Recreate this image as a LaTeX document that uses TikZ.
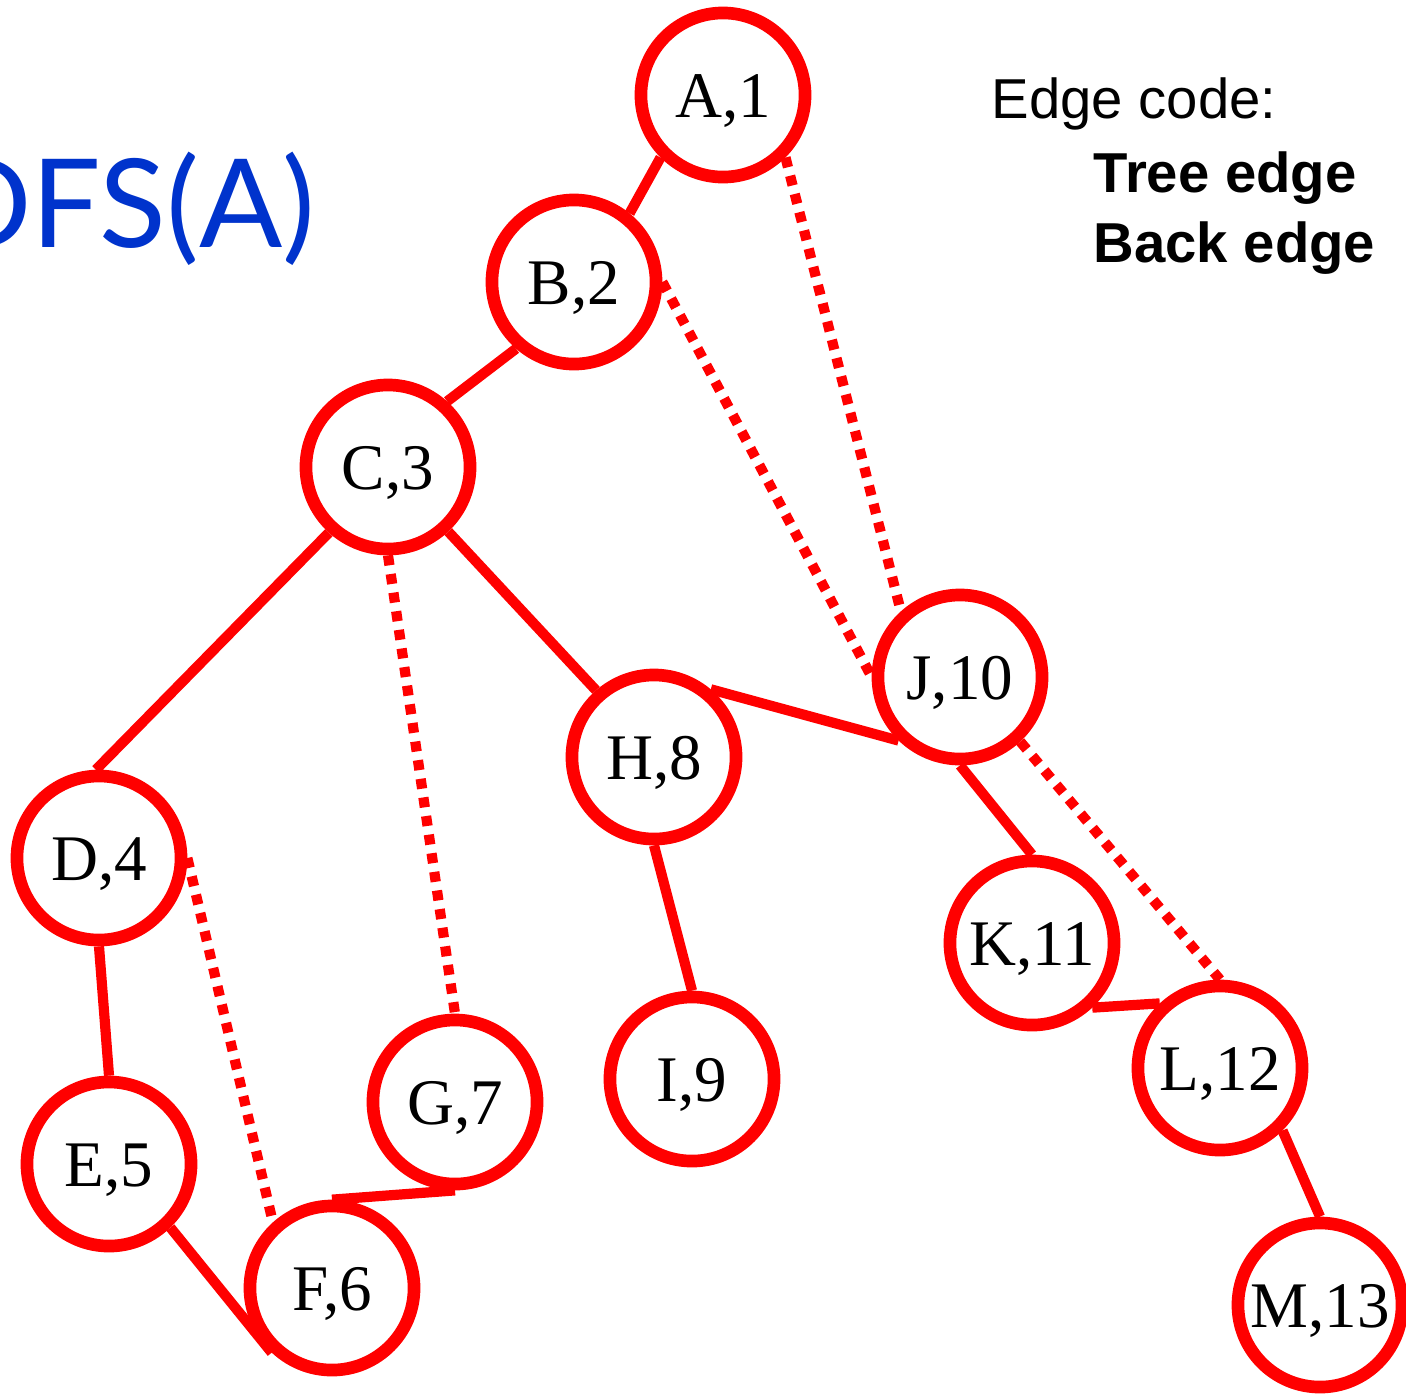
\documentclass[tikz,border=0pt]{standalone}
\usepackage{fontspec}
\setmainfont{Liberation Serif}
\newfontfamily\titlefont{Lato}
\newfontfamily\legendfont{Liberation Sans}
\definecolor{dfsred}{RGB}{255,0,0}
\definecolor{dfsblue}{RGB}{0,51,204}

\begin{document}
\begin{tikzpicture}[x=0.01cm, y=-0.01cm,
        vertex/.style={circle, draw=dfsred, fill=white, line width=3.6pt, minimum size=1.64cm, inner sep=0pt, text height=13pt, text depth=0pt, font=\fontsize{18.5}{20}\selectfont},
        tree/.style={draw=dfsred, line width=2.9pt},
        back/.style={draw=dfsred, line width=2.9pt, dash pattern=on 2.85pt off 2.5pt},
        legend/.style={anchor=base west, inner sep=0pt, font=\legendfont\fontsize{16}{19}\selectfont}
    ]
        \useasboundingbox (0,0) rectangle (1406,1393);
        \clip (0,0) rectangle (1406,1393);

        \node[anchor=base east, inner sep=0pt, text=dfsblue, font=\titlefont\fontsize{35}{40}\selectfont] (title) at (316,247) {DFS(A)};

        \node[legend] (code) at (991,118) {Edge code:};
        \node[legend, font=\legendfont\bfseries\fontsize{16}{19}\selectfont] (treelbl) at (1093,192) {Tree edge};
        \node[legend, font=\legendfont\bfseries\fontsize{16}{19}\selectfont] (backlbl) at (1093,262) {Back edge};

        \node[vertex] (A) at (723,95) {A,1};
        \node[vertex] (B) at (574,282) {B,2};
        \node[vertex] (C) at (388,467) {C,3};
        \node[vertex] (D) at (99,858) {D,4};
        \node[vertex] (E) at (109,1164) {E,5};
        \node[vertex] (F) at (332,1288) {F,6};
        \node[vertex] (G) at (455,1102) {G,7};
        \node[vertex] (H) at (654,757) {H,8};
        \node[vertex] (I) at (692,1079) {I,9};
        \node[vertex] (J) at (960,677) {J,10};
        \node[vertex] (K) at (1032,943) {K,11};
        \node[vertex] (L) at (1220,1068) {L,12};
        \node[vertex] (M) at (1320,1305) {M,13};

        % tree edges
        \draw[tree] (A.225) -- (B.51);
        \draw[tree] (B.229) -- (C.48);
        \draw[tree] (C.228) -- (D.92);
        \draw[tree] (C.-47) -- (H.131);
        \draw[tree] (D.south) -- (E.north);
        \draw[tree] (E.-46) -- (F.227);
        \draw[tree] (F.north) -- (G.south);
        \draw[tree] (H.south) -- (I.north);
        \draw[tree] (H.50) -- (J.226);
        \draw[tree] (J.south) -- (K.north);
        \draw[tree] (K.-47) -- (L.133);
        \draw[tree] (L.-45) -- (M.north);

        % back edges
        \draw[back] (A.-45) -- (J.132);
        \draw[back] (B.east) -- (J.west);
        \draw[back] (C.south) -- (G.north);
        \draw[back] (D.east) -- (F.132);
        \draw[back] (J.-47) -- (L.north);
    \end{tikzpicture}
\end{document}
